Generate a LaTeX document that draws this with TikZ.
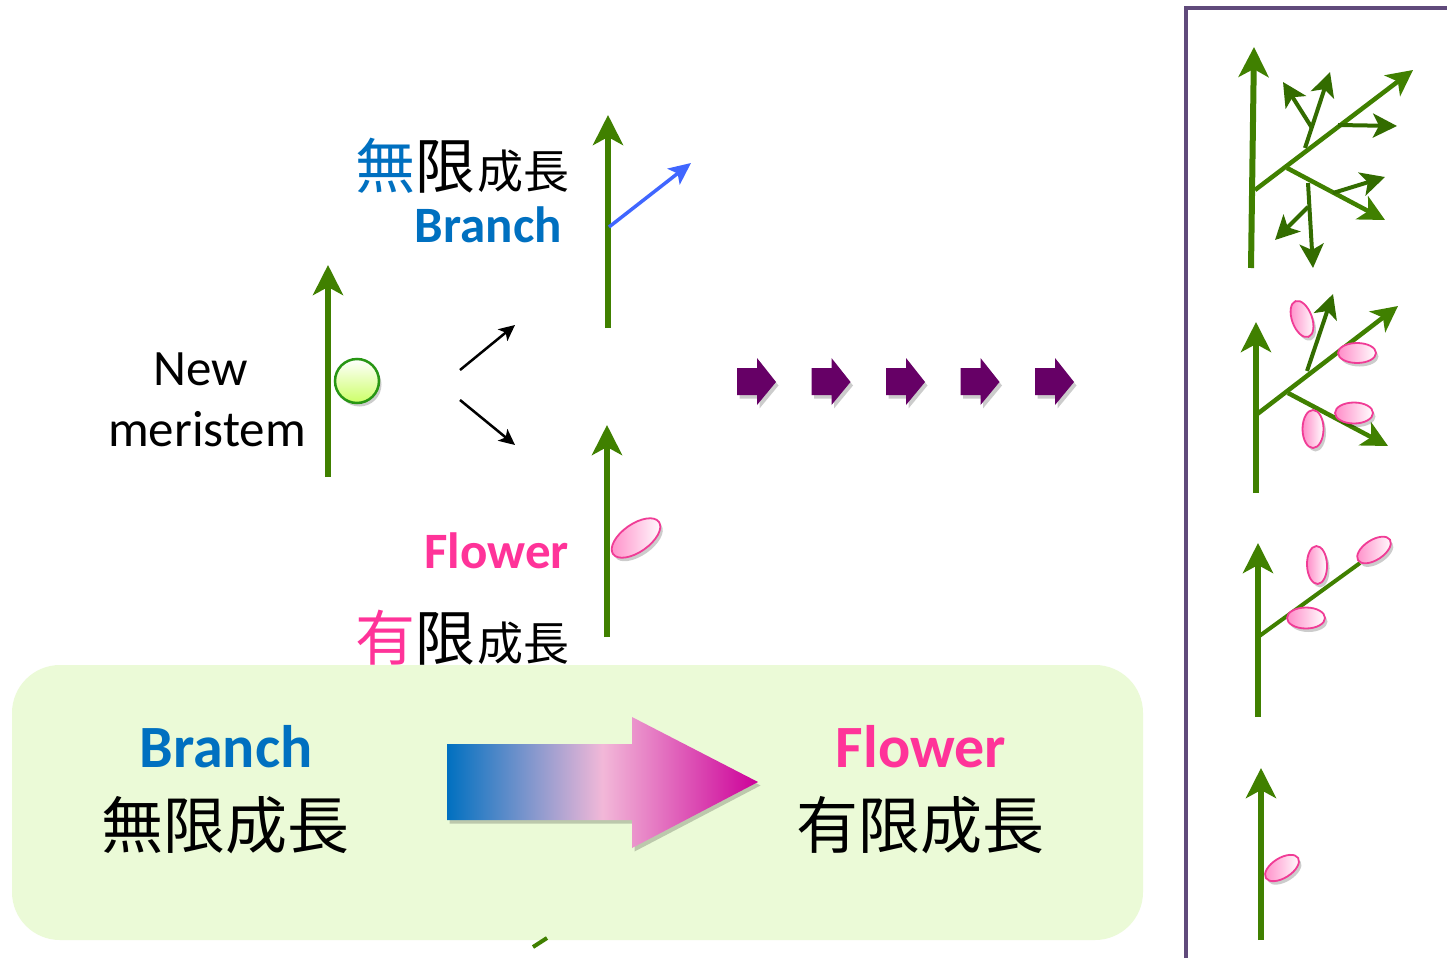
\documentclass[tikz,border=0pt]{standalone}
\usepackage{fontspec}
\setmainfont{Carlito}
\newfontfamily\cjk{Noto Sans CJK JP}
\usetikzlibrary{arrows.meta,shadows,shapes.geometric}

\definecolor{stemgreen}{RGB}{64,128,0}
\definecolor{twiggreen}{RGB}{51,108,0}
\definecolor{txtblue}{RGB}{0,112,192}
\definecolor{txtpink}{RGB}{255,51,153}
\definecolor{branchblue}{RGB}{64,102,255}
\definecolor{arrowpurple}{RGB}{102,0,102}
\definecolor{boxgreen}{RGB}{235,250,215}
\definecolor{framepurple}{RGB}{96,74,123}
\definecolor{petalpink}{RGB}{255,140,200}
\definecolor{petalline}{RGB}{240,60,150}
\definecolor{budline}{RGB}{40,150,20}
\definecolor{budfill}{RGB}{204,255,102}
\definecolor{gradblue}{RGB}{0,112,192}
\definecolor{gradpink}{RGB}{242,184,216}
\definecolor{gradmagenta}{RGB}{204,0,153}

\tikzset{
  stemarrow/.style={draw=stemgreen, line width=6pt, -{Stealth[length=30pt,width=30pt,inset=8pt]}},
  limb/.style={draw=stemgreen, line width=4.5pt, -{Stealth[length=26pt,width=26pt,inset=7pt]}},
  twig/.style={draw=twiggreen, line width=4pt, -{Stealth[length=24pt,width=24pt,inset=6pt]}},
  softshadow/.style={drop shadow={shadow xshift=2.5pt, shadow yshift=-3.5pt, opacity=0.2, fill=black}},
  petal/.style={ellipse, draw=petalline, line width=1.8pt, left color=petalpink, right color=white,
                inner sep=0pt, softshadow},
  lat/.style={font=\fontsize{51}{61}\selectfont, inner sep=0pt},
  latbold/.style={font=\bfseries\fontsize{51}{51}\selectfont, inner sep=0pt},
  bigbold/.style={font=\bfseries\fontsize{60}{60}\selectfont, inner sep=0pt},
  bigcjk/.style={font=\cjk\fontsize{62}{62}\selectfont, inner sep=0pt},
  blockarrow/.style={fill=arrowpurple, softshadow},
  pointer/.style={draw=black, line width=2.5pt, -{Stealth[length=16pt,width=15pt,inset=4pt]}},
}

\begin{document}
\begin{tikzpicture}[x=1pt,y=-1pt]
\useasboundingbox (0,0) rectangle (1447,958);
\fill[white] (0,0) rectangle (1447,958);

% ---------- summary box ----------
\fill[boxgreen, rounded corners=48pt] (12,665) rectangle (1143,940);
\draw[stemgreen, line width=4pt] (533,947) -- (547,938);

\node[bigbold, text=txtblue, anchor=base] (bbr) at (226,767) {Branch};
\node[bigcjk, anchor=base] (bjp) at (225,848) {無限成長};
\node[bigbold, text=txtpink, anchor=base] (bfl) at (921,767) {Flower};
\node[bigcjk, anchor=base] (fjp) at (920,848) {有限成長};

\shade[left color=gradblue, right color=gradmagenta, middle color=gradpink, softshadow]
  (447,744) -- (632,744) -- (632,717) -- (758,782) -- (632,848) -- (632,820) -- (447,820) -- cycle;

% ---------- new meristem ----------
\node[lat, anchor=base] (nm1) at (201,385) {New};
\node[lat, anchor=base] (nm2) at (207,446) {meristem};

\coordinate (s0b) at (328,477);
\coordinate (s0t) at (328,265);
\draw[stemarrow] (s0b) -- (s0t);
\node[circle, minimum size=44pt, inner sep=0pt, draw=budline, line width=2.5pt,
      top color=white, bottom color=budfill, softshadow] (bud) at (357,381) {};

\coordinate (fork) at (460,370);
\coordinate (forkd) at (460,400);
\coordinate (up) at (515,325);
\coordinate (down) at (515,445);
\draw[pointer] (fork) -- (up);
\draw[pointer] (forkd) -- (down);

% ---------- indeterminate branch ----------
\coordinate (s1b) at (608,328);
\coordinate (s1t) at (608,115);
\draw[stemarrow] (s1b) -- (s1t);
\coordinate (bj) at (609,227);
\coordinate (bt) at (691,163);
\draw[branchblue, line width=3.5pt, -{Stealth[length=22pt,width=20pt,inset=5pt]}] (bj) -- (bt);

\node[anchor=base west, inner sep=0pt] (infjp) at (355,188)
  {\cjk\fontsize{60}{60}\selectfont\textcolor{txtblue}{無}限\kern2pt\fontsize{46}{46}\selectfont 成長};
\node[latbold, text=txtblue, anchor=base east] (infen) at (562,242) {Branch};

% ---------- determinate flower ----------
\coordinate (s2b) at (607,637);
\coordinate (s2t) at (607,425);
\draw[stemarrow] (s2b) -- (s2t);
\node[petal, minimum width=56pt, minimum height=28pt, rotate=35] (fl0) at (636,538) {};

\node[latbold, text=txtpink, anchor=base east] (finen) at (569,568) {Flower};
\node[anchor=base west, inner sep=0pt] (finjp) at (355,660)
  {\cjk\fontsize{60}{60}\selectfont\textcolor{txtpink}{有}限\kern2pt\fontsize{46}{46}\selectfont 成長};

% ---------- progression arrows ----------
\foreach \i in {0,...,4}{
  \begin{scope}[xshift={\i*74.5pt}]
    \fill[blockarrow] (737,368) -- (757,368) -- (757,358) -- (776,382) -- (757,405)
      -- (757,395) -- (737,395) -- cycle;
  \end{scope}
}

% ---------- side panel ----------
\draw[framepurple, line width=3.5pt] (1186,958) -- (1186,8) -- (1447,8);

% plant with branches only
\draw[stemarrow] (1251,268) -- (1254,47);
\draw[limb] (1255,190) -- (1413,70);
\draw[limb] (1287,168) -- (1385,220);
\draw[twig] (1333,193) -- (1385,177);
\draw[twig] (1308,183) -- (1313,268);
\draw[twig] (1308,207) -- (1275,240);
\draw[twig] (1305,148) -- (1330,72);
\draw[twig] (1312,128) -- (1283,82);
\draw[twig] (1338,125) -- (1397,126);

% plant with branches and flowers
\draw[stemarrow] (1256,493) -- (1256,322);
\draw[limb] (1256,415) -- (1398,306);
\draw[limb] (1288,393) -- (1388,446);
\draw[twig] (1307,371) -- (1333,294);
\node[petal, minimum width=38pt, minimum height=20pt, rotate=110] (pa) at (1302,319) {};
\node[petal, minimum width=38pt, minimum height=20pt] (pb) at (1357,353) {};
\node[petal, minimum width=38pt, minimum height=21pt] (pc) at (1354,413) {};
\node[petal, minimum width=38pt, minimum height=21pt, rotate=90] (pd) at (1313,429) {};

% plant with flowers only
\draw[stemarrow] (1258,717) -- (1258,543);
\draw[stemgreen, line width=4pt] (1258,637) -- (1360,563);
\node[petal, minimum width=38pt, minimum height=20pt, rotate=33] (pe) at (1374,550) {};
\node[petal, minimum width=38pt, minimum height=20pt, rotate=92] (pf) at (1317,565) {};
\node[petal, minimum width=38pt, minimum height=21pt] (pg) at (1306,618) {};

% single flower
\draw[stemarrow] (1261,940) -- (1261,768);
\node[petal, minimum width=38pt, minimum height=20pt, rotate=32] (ph) at (1282,868) {};

\end{tikzpicture}
\end{document}
